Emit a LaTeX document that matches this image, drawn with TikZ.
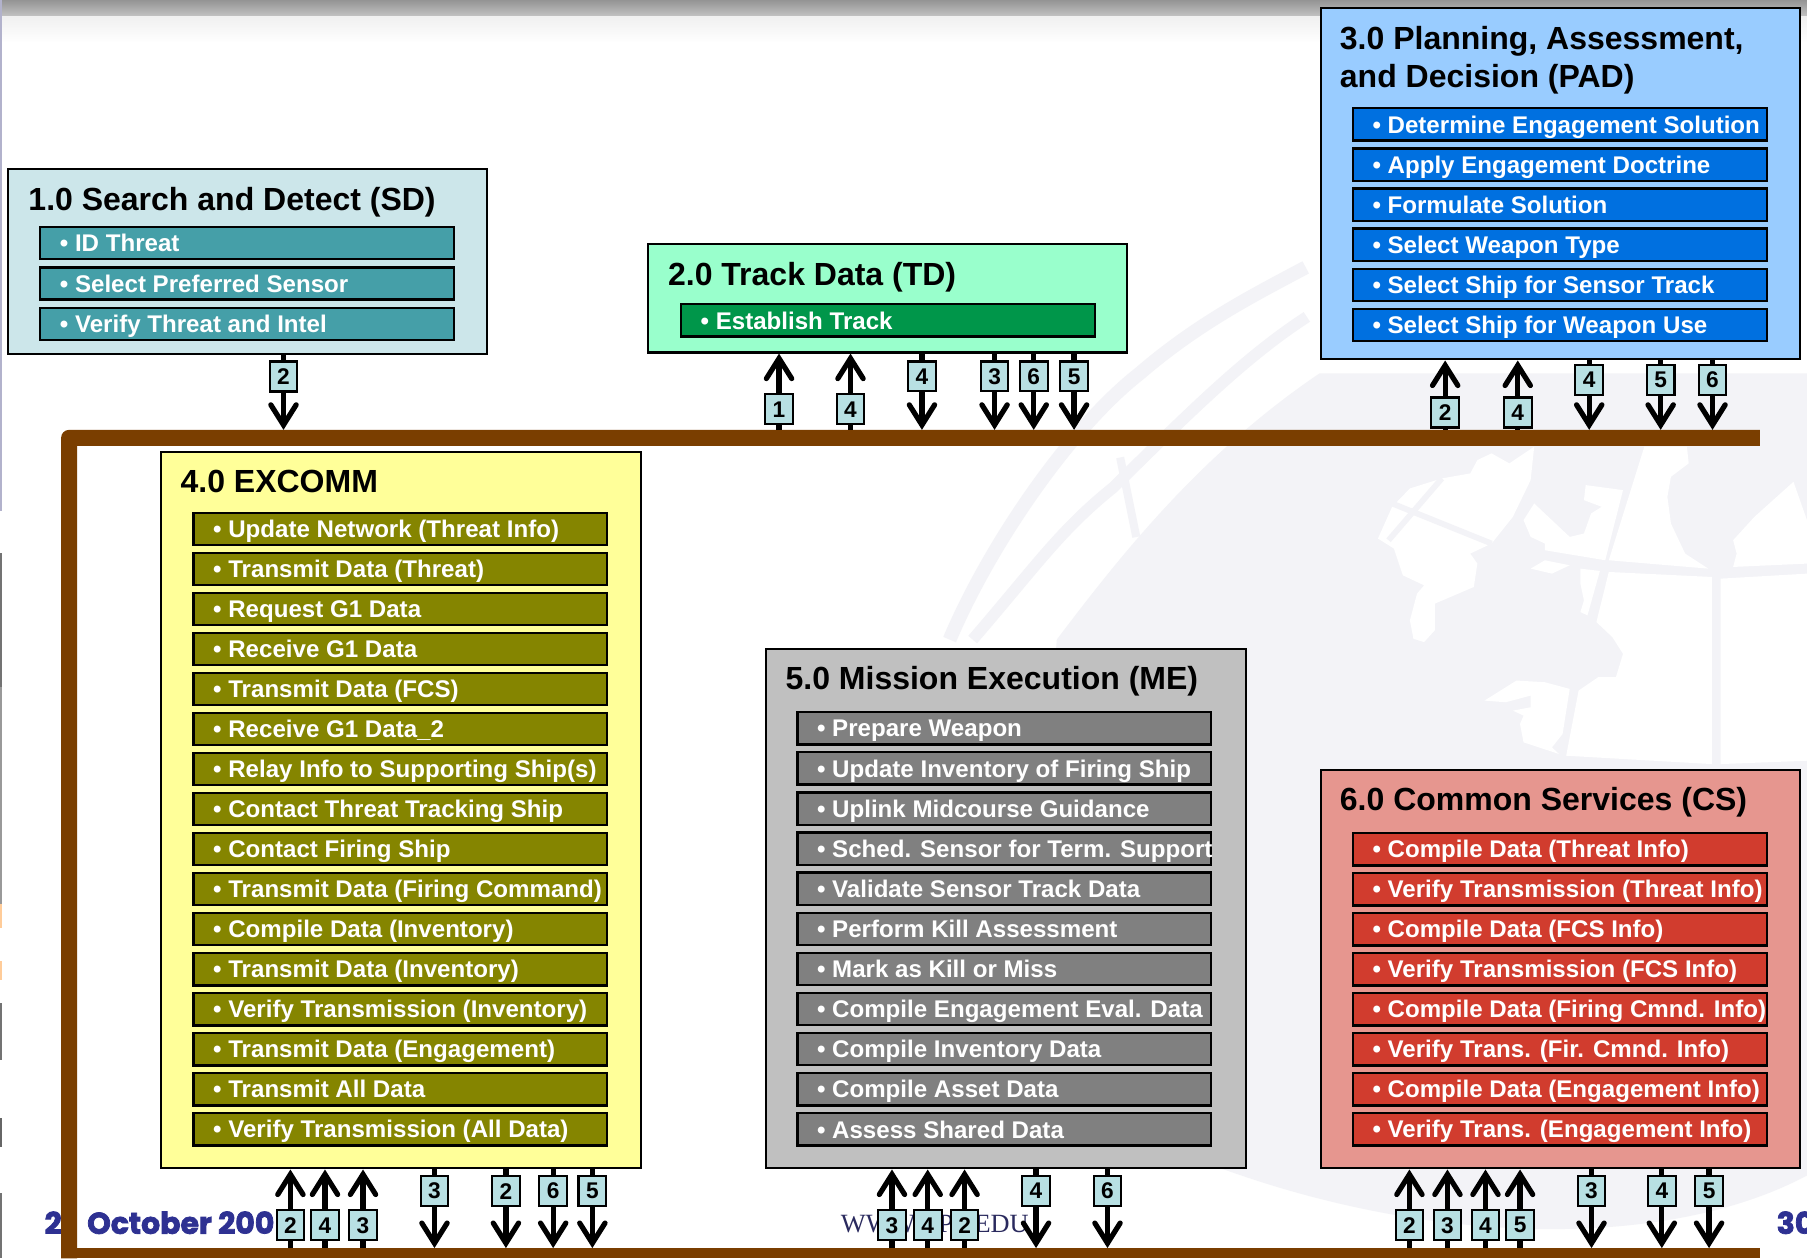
\documentclass[tikz,border=0pt]{standalone}
\usepackage{fontspec}
\setmainfont{Liberation Sans}
\newfontfamily\footfont[FakeBold=2.5]{Poppins}
\newfontfamily\webfont{Liberation Serif}
\usetikzlibrary{arrows.meta}
\definecolor{sdbox}{HTML}{CCE6EA}
\definecolor{sdrow}{HTML}{459FA8}
\definecolor{tdbox}{HTML}{99FFCC}
\definecolor{tdrow}{HTML}{00964A}
\definecolor{padbox}{HTML}{99CCFF}
\definecolor{padrow}{HTML}{0070E0}
\definecolor{exbox}{HTML}{FFFF99}
\definecolor{exrow}{HTML}{858500}
\definecolor{mebox}{HTML}{C0C0C0}
\definecolor{merow}{HTML}{808080}
\definecolor{csbox}{HTML}{E6968F}
\definecolor{csrow}{HTML}{D13C2E}
\definecolor{busbrown}{HTML}{7A3E00}
\definecolor{tagblue}{HTML}{B8E0E3}
\definecolor{footblue}{HTML}{2E3192}
\definecolor{webblue}{HTML}{2A2A5E}
\definecolor{globe}{HTML}{F3F3F7}
\tikzstyle{flow} = [-{Straight Barb[length=1.75mm,width=2.2mm,line cap=round]},line width=0.45mm,black]
\tikzstyle{tag} = [draw,line width=0.18mm,fill=tagblue,inner sep=0,minimum width=2.4mm,minimum height=2.6mm,font=\bfseries\fontsize{5.6}{6}\selectfont]
\tikzstyle{group} = [draw,line width=0.18mm,anchor=north west,inner sep=0,minimum width=41.6mm]
\tikzstyle{heading} = [anchor=west,inner sep=0,align=left,font=\bfseries\fontsize{7.9}{9.35}\selectfont]
\tikzstyle{row} = [draw,line width=0.2mm,anchor=west,inner xsep=1.7mm,inner ysep=0,minimum width=35.9mm,minimum height=2.8mm,text height=2mm,text depth=0.5mm,text=white,font=\bfseries\fontsize{5.95}{7}\selectfont]
\tikzstyle{foot} = [anchor=west,inner sep=0,text=footblue,font=\footfont\bfseries\fontsize{7.4}{9}\selectfont]
\newcommand{\rowtext}[1]{\makebox[32.5mm][l]{\textbullet\ #1}}
\begin{document}
\begin{tikzpicture}
    \useasboundingbox (0,0) rectangle (15.68,-10.92);
    \fill[white] (0,0) rectangle (15.68,-10.92);
    % globe
    \fill[globe] (9.17,-5.55) .. controls (9.7,-4.85) and (10.4,-3.95) .. (11.45,-3.24) -- (15.68,-3.24) -- (15.68,-10.2) .. controls (14.5,-10.83) and (12.5,-10.83) .. (10.6,-10.14) -- (8.9,-9) -- cycle;
    \draw[globe,line width=0.12cm] (8.24,-5.55) .. controls (8.6,-4.7) and (9.3,-3.7) .. (9.89,-3.24) .. controls (10.4,-2.8) and (10.9,-2.55) .. (11.33,-2.32);
    \draw[globe,line width=0.1cm] (8.44,-5.55) .. controls (9,-4.9) and (9.2,-4.6) .. (9.66,-4.23) .. controls (10.3,-3.6) and (10.8,-3.1) .. (11.34,-2.75);
    \draw[globe,line width=0.07cm] (9.72,-3.97) -- (9.86,-4.66);
    \begin{scope}[x=0.003083cm,y=-0.002893cm,shift={(10.847cm,-3.818cm)}]
        \fill[white] (360,295) -- (400,200) -- (450,145) -- (540,115) -- (620,100) -- (640,60) -- (680,40) -- (730,70) -- (800,20) -- (790,120) -- (740,230) -- (680,310) -- (620,340) -- (640,370) -- (630,440) -- (520,490) -- (520,570) -- (490,605) -- (460,595) -- (450,540) -- (470,460) -- (490,435) -- (430,405) -- (405,325) -- cycle;
        \draw[globe,line width=0.05cm] (400,190) -- (680,310);
        \draw[globe,line width=0.05cm] (540,115) -- (390,300);
        \fill[white] (770,240) -- (800,190) -- (830,220) -- (900,290) -- (940,280) -- (960,220) -- (990,200) -- (940,180) -- (945,135) -- (1050,150) -- (1000,360) -- (830,330) -- (830,310) -- (790,290) -- cycle;
        \fill[white] (1010,360) -- (1110,20) -- (1230,20) -- (1235,70) -- (1185,110) -- (1175,170) -- (1185,250) -- (1225,340) -- (1290,385) -- cycle;
        \fill[white] (1360,380) -- (1370,340) -- (1360,300) -- (1420,230) -- (1530,125) -- (1568,240) -- (1568,370) -- cycle;
        \fill[white] (1010,395) -- (1300,410) -- (1300,970) -- (890,945) -- (925,750) -- (980,710) -- (1030,710) -- (1050,640) -- (1020,590) -- (975,545) -- cycle;
        \fill[white] (1325,415) -- (1568,400) -- (1568,960) -- (1325,970) -- cycle;
        \fill[white] (930,385) -- (985,392) -- (950,525) -- (930,515) -- (940,480) -- (930,430) -- cycle;
        \fill[white] (790,385) -- (830,360) -- (900,375) -- (850,400) -- cycle;
        \fill[white] (660,780) -- (750,720) -- (830,725) -- (900,745) -- (880,880) -- (850,920) -- (870,940) -- (770,905) -- (760,850) -- (770,825) -- (740,810) -- (790,800) -- (790,765) -- (720,785) -- cycle;
    \end{scope}
    % page edges
    \shade[top color=black!42,bottom color=black!24] (0,0) rectangle (15.68,-0.14);
    \shade[top color=black!6,bottom color=white] (0,-0.14) rectangle (15.68,-0.37);
    \fill[blue!20!gray!50] (0,0) rectangle (0.02,-4.43);
    \foreach \a/\b/\c in {4.80/5.96/black!55,5.96/7.84/black!40,7.84/8.05/orange!40,8.34/8.50/orange!40,8.70/9.20/black!55,9.70/9.95/black!60,10.35/10.92/black!55}
        \fill[\c] (0,-\a) rectangle (0.02,-\b);
    % footer
    \node[foot] at (0.38,-10.61) (footday) {2};
    \node[foot] at (0.75,-10.61) (footdate) {October 200};
    \node[foot] at (15.41,-10.61) (footpage) {30};
    \node[anchor=west,inner sep=0,text=webblue,font=\webfont\fontsize{6.5}{8}\selectfont] at (7.29,-10.62) (footweb) {WWW.NPS.EDU};
    % bus
    \fill[busbrown] (15.27,-3.73) [rounded corners=0.07cm] -- (0.53,-3.73) [sharp corners] -- (0.53,-10.92) -- (0.67,-10.92) -- (0.67,-3.87) -- (15.27,-3.87) -- cycle;
    \fill[busbrown] (0.53,-10.83) rectangle (15.27,-10.92);

    % 1.0
    \node[group,fill=sdbox,minimum height=16mm] at (0.06,-1.46) (sd) {};
    \node[heading] at (0.24,-1.755) (sdtitle) {1.0 Search and Detect (SD)};
    \foreach \t [count=\i from 0] in {ID Threat,Select Preferred Sensor,Verify Threat and Intel}
        \node[row,fill=sdrow] at (0.34,{-2.11-0.35*\i}) (sd\i) {\rowtext{\t}};
    % 2.0
    \node[group,fill=tdbox,minimum height=9.4mm] at (5.61,-2.11) (td) {};
    \node[heading] at (5.79,-2.405) (tdtitle) {2.0 Track Data (TD)};
    \node[row,fill=tdrow] at (5.90,-2.78) (td0) {\rowtext{Establish Track}};
    % 3.0
    \node[group,fill=padbox,minimum height=30.5mm] at (11.45,-0.06) (pad) {};
    \node[heading] at (11.62,-0.525) (padtitle) {3.0 Planning, Assessment,\\and Decision (PAD)};
    \foreach \t [count=\i from 0] in {Determine Engagement Solution,Apply Engagement Doctrine,Formulate Solution,Select Weapon Type,Select Ship for Sensor Track,Select Ship for Weapon Use}
        \node[row,fill=padrow] at (11.73,{-1.08-0.348*\i}) (pad\i) {\rowtext{\t}};
    % 4.0
    \node[group,fill=exbox,minimum height=62.2mm] at (1.39,-3.91) (ex) {};
    \node[heading] at (1.56,-4.175) (extitle) {4.0 EXCOMM};
    \foreach \t [count=\i from 0] in {Update Network (Threat Info),Transmit Data (Threat),Request G1 Data,Receive G1 Data,Transmit Data (FCS),Receive G1 Data\_2,Relay Info to Supporting Ship(s),Contact Threat Tracking Ship,Contact Firing Ship,Transmit Data (Firing Command),Compile Data (Inventory),Transmit Data (Inventory),Verify Transmission (Inventory),Transmit Data (Engagement),Transmit All Data,Verify Transmission (All Data)}
        \node[row,fill=exrow] at (1.67,{-4.59-0.3473*\i}) (ex\i) {\rowtext{\t}};
    % 5.0
    \node[group,fill=mebox,minimum height=45.1mm] at (6.64,-5.62) (me) {};
    \node[heading] at (6.81,-5.91) (metitle) {5.0 Mission Execution (ME)};
    \foreach \t [count=\i from 0] in {Prepare Weapon,Update Inventory of Firing Ship,Uplink Midcourse Guidance,Sched. Sensor for Term. Support,Validate Sensor Track Data,Perform Kill Assessment,Mark as Kill or Miss,Compile Engagement Eval. Data,Compile Inventory Data,Compile Asset Data,Assess Shared Data}
        \node[row,fill=merow] at (6.91,{-6.32-0.348*\i}) (me\i) {\rowtext{\t}};
    % 6.0
    \node[group,fill=csbox,minimum height=34.6mm] at (11.45,-6.67) (cs) {};
    \node[heading] at (11.62,-6.96) (cstitle) {6.0 Common Services (CS)};
    \foreach \t [count=\i from 0] in {Compile Data (Threat Info),Verify Transmission (Threat Info),Compile Data (FCS Info),Verify Transmission (FCS Info),Compile Data (Firing Cmnd. Info),Verify Trans. (Fir. Cmnd. Info),Compile Data (Engagement Info),Verify Trans. (Engagement Info)}
        \node[row,fill=csrow] at (11.73,{-7.37-0.347*\i}) (cs\i) {\rowtext{\t}};

    % links to the bus
    \coordinate (p) at (2.46,-3.73);
    \draw[flow] (p |- sd.south) -- (p) node[tag,pos=0.29] (sddown1) {2};
    \foreach \x/\n [count=\i] in {6.76/1,7.38/4} {
        \coordinate (p) at (\x,-3.73);
        \draw[flow] (p) -- (p |- td.south) node[tag,pos=0.27] (tdup\i) {\n};
    }
    \foreach \x/\n [count=\i] in {8.00/4,8.63/3,8.97/6,9.32/5} {
        \coordinate (p) at (\x,-3.73);
        \draw[flow] (p |- td.south) -- (p) node[tag,pos=0.3] (tddown\i) {\n};
    }
    \foreach \x/\n [count=\i] in {12.54/2,13.17/4} {
        \coordinate (p) at (\x,-3.73);
        \draw[flow] (p) -- (p |- pad.south) node[tag,pos=0.25] (padup\i) {\n};
    }
    \foreach \x/\n [count=\i] in {13.79/4,14.41/5,14.86/6} {
        \coordinate (p) at (\x,-3.73);
        \draw[flow] (p |- pad.south) -- (p) node[tag,pos=0.28] (paddown\i) {\n};
    }
    \foreach \x/\n [count=\i] in {2.52/2,2.82/4,3.15/3} {
        \coordinate (p) at (\x,-10.83);
        \draw[flow] (p) -- (p |- ex.south) node[tag,pos=0.29] (exup\i) {\n};
    }
    \foreach \x/\n [count=\i] in {3.77/3,4.39/2,4.80/6,5.14/5} {
        \coordinate (p) at (\x,-10.83);
        \draw[flow] (p |- ex.south) -- (p) node[tag,pos=0.275] (exdown\i) {\n};
    }
    \foreach \x/\n [count=\i] in {7.74/3,8.05/4,8.37/2} {
        \coordinate (p) at (\x,-10.83);
        \draw[flow] (p) -- (p |- me.south) node[tag,pos=0.29] (meup\i) {\n};
    }
    \foreach \x/\n [count=\i] in {8.99/4,9.61/6} {
        \coordinate (p) at (\x,-10.83);
        \draw[flow] (p |- me.south) -- (p) node[tag,pos=0.275] (medown\i) {\n};
    }
    \foreach \x/\n [count=\i] in {12.23/2,12.56/3,12.89/4,13.19/5} {
        \coordinate (p) at (\x,-10.83);
        \draw[flow] (p) -- (p |- cs.south) node[tag,pos=0.29] (csup\i) {\n};
    }
    \foreach \x/\n [count=\i] in {13.81/3,14.42/4,14.83/5} {
        \coordinate (p) at (\x,-10.83);
        \draw[flow] (p |- cs.south) -- (p) node[tag,pos=0.275] (csdown\i) {\n};
    }
\end{tikzpicture}
\end{document}
